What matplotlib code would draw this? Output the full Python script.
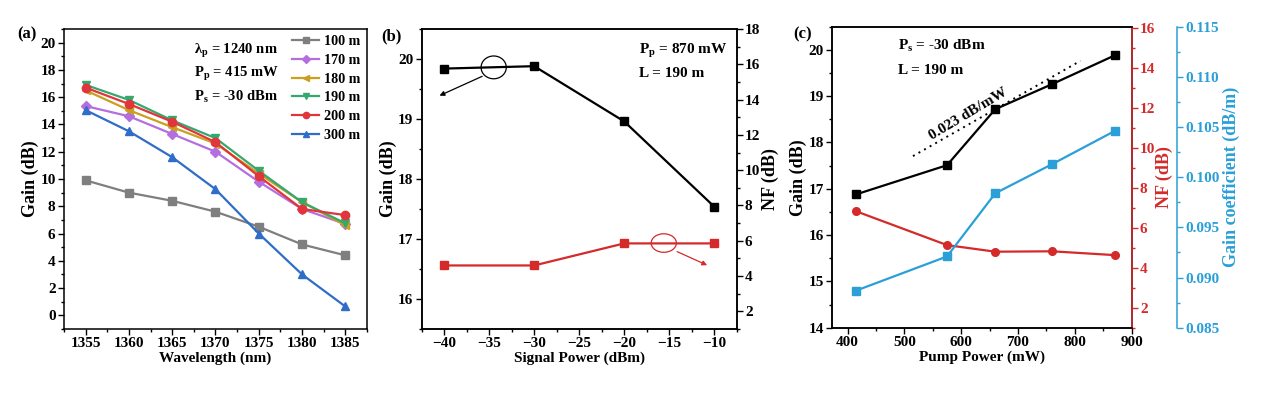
import numpy as np
import matplotlib
matplotlib.use("Agg")
import matplotlib.pyplot as plt
from matplotlib.patches import Ellipse
from matplotlib.ticker import MultipleLocator, FormatStrFormatter

plt.rcParams['font.family'] = ['Liberation Serif', 'DejaVu Serif']
plt.rcParams['font.weight'] = 'bold'
plt.rcParams['axes.labelweight'] = 'bold'
plt.rcParams['mathtext.fontset'] = 'custom'
plt.rcParams['mathtext.rm'] = 'Liberation Serif:bold'
plt.rcParams['mathtext.it'] = 'Liberation Serif:bold'
plt.rcParams['mathtext.bf'] = 'Liberation Serif:bold'

# ---- panel (a): gain vs wavelength for several fibre lengths
wavelength = [1355, 1360, 1365, 1370, 1375, 1380, 1385]
lengths = ['100 m', '170 m', '180 m', '190 m', '200 m', '300 m']
gain_100 = [9.9, 9.0, 8.4, 7.6, 6.5, 5.2, 4.4]
gain_170 = [15.35, 14.6, 13.3, 12.0, 9.8, 7.8, 6.7]
gain_180 = [16.5, 15.05, 13.8, 12.6, 10.4, 8.3, 6.6]
gain_190 = [16.9, 15.8, 14.3, 13.0, 10.6, 8.3, 6.75]
gain_200 = [16.7, 15.5, 14.2, 12.7, 10.2, 7.8, 7.35]
gain_300 = [15.05, 13.5, 11.6, 9.25, 6.0, 3.0, 0.65]

# ---- panel (b): gain / NF vs signal power
signal_power = [-40, -30, -20, -10]
gain_b = [19.84, 19.88, 18.96, 17.54]
nf_b = [4.6, 4.6, 5.85, 5.85]

# ---- panel (c): gain / NF / gain coefficient vs pump power
pump_power = [415, 575, 660, 760, 870]
gain_c = [16.88, 17.51, 18.72, 19.26, 19.88]
nf_c = [6.82, 5.13, 4.8, 4.82, 4.63]
coef_c = [0.0887, 0.0921, 0.0984, 0.1013, 0.1046]

series_a = [gain_100, gain_170, gain_180, gain_190, gain_200, gain_300]
colors_a = ['#7f7f7f', '#b46ee0', '#c9a020', '#35a86e', '#e0353a', '#2e6dc8']
markers_a = ['s', 'D', '<', 'v', 'o', '^']

RED = '#d42a2a'
BLUE = '#2a9fd8'
FS = 11      # horizontal text
YFS = 13     # rotated axis labels (reference text is tall and narrow)
TFS = 11

fig = plt.figure(figsize=(12.69, 3.97), dpi=100)
axA = fig.add_axes([0.0504, 0.1713, 0.2388, 0.7557])
axB = fig.add_axes([0.3323, 0.1713, 0.2482, 0.7557])
axC = fig.add_axes([0.6559, 0.1746, 0.2358, 0.758])


def style(ax):
    ax.tick_params(which='both', direction='out', labelsize=TFS, width=1, pad=2)
    ax.tick_params(which='major', length=4)
    ax.tick_params(which='minor', length=2)
    for s in ax.spines.values():
        s.set_linewidth(1.1)


# (a)
for ys, lab, c, m in zip(series_a, lengths, colors_a, markers_a):
    ms = 5.5 if m in ('s', 'D') else 6
    axA.plot(wavelength, ys, color=c, marker=m, ms=ms, lw=1.6, label=lab)
axA.set_xlim(1352.5, 1387.5)
axA.set_ylim(-1, 21)
axA.xaxis.set_major_locator(MultipleLocator(5))
axA.xaxis.set_minor_locator(MultipleLocator(2.5))
axA.yaxis.set_major_locator(MultipleLocator(2))
axA.yaxis.set_minor_locator(MultipleLocator(1))
style(axA)
axA.set_xlabel('Wavelength (nm)', fontsize=FS, labelpad=1)
axA.set_ylabel('Gain (dB)', fontsize=YFS, labelpad=1)
axA.legend(loc='upper right', bbox_to_anchor=(1.0, 1.0), frameon=False,
           fontsize=10.2, handlelength=1.9, labelspacing=0.4, handletextpad=0.35,
           borderaxespad=0.05, markerscale=0.75)
axA.text(0.43, 0.925, 'λ$_\\mathrm{p}$ = 1240 nm', transform=axA.transAxes, fontsize=10.5, va='center')
axA.text(0.43, 0.85, 'P$_\\mathrm{p}$ = 415 mW', transform=axA.transAxes, fontsize=10.5, va='center')
axA.text(0.43, 0.775, 'P$_\\mathrm{s}$ = -30 dBm', transform=axA.transAxes, fontsize=10.5, va='center')

# (b)
axB2 = axB.twinx()
axB.plot(signal_power, gain_b, color='black', marker='s', ms=5.5, lw=1.6)
axB2.plot(signal_power, nf_b, color=RED, marker='s', ms=5.5, lw=1.6)
axB.set_xlim(-42.5, -7.5)
axB.set_ylim(15.5, 20.5)
axB2.set_ylim(1, 18)
axB.xaxis.set_major_locator(MultipleLocator(5))
axB.xaxis.set_minor_locator(MultipleLocator(2.5))
axB.yaxis.set_major_locator(MultipleLocator(1))
axB.yaxis.set_minor_locator(MultipleLocator(0.5))
axB2.yaxis.set_major_locator(MultipleLocator(2))
axB2.yaxis.set_minor_locator(MultipleLocator(1))
style(axB)
style(axB2)
axB.set_xlabel('Signal Power (dBm)', fontsize=FS, labelpad=1)
axB.set_ylabel('Gain (dB)', fontsize=YFS, labelpad=1)
axB2.set_ylabel('NF (dB)', fontsize=YFS, labelpad=1)
axB.text(0.69, 0.925, 'P$_\\mathrm{p}$ = 870 mW', transform=axB.transAxes, fontsize=FS, va='center')
axB.text(0.69, 0.85, 'L = 190 m', transform=axB.transAxes, fontsize=FS, va='center')
axB.add_patch(Ellipse((-34.5, 19.86), 2.8, 0.38, fill=False, ec='black', lw=0.9))
axB.annotate('', xy=(-40.8, 19.37), xytext=(-35.5, 19.73),
             arrowprops=dict(arrowstyle='-|>', color='black', lw=0.9, mutation_scale=7))
axB2.add_patch(Ellipse((-15.6, 5.87), 2.8, 1.05, fill=False, ec=RED, lw=0.9))
axB2.annotate('', xy=(-10.5, 4.55), xytext=(-14.4, 5.45),
              arrowprops=dict(arrowstyle='-|>', color=RED, lw=0.9, mutation_scale=7))

# (c)
axC2 = axC.twinx()
axC3 = axC.twinx()
axC3.spines['right'].set_position(('axes', 1.153))
axC.plot(pump_power, gain_c, color='black', marker='s', ms=5.5, lw=1.6)
axC2.plot(pump_power, nf_c, color=RED, marker='o', ms=5.5, lw=1.6)
axC3.plot(pump_power, coef_c, color=BLUE, marker='s', ms=5.5, lw=1.6)
# linear fit of the gain, drawn shifted above the data
k, b0 = np.polyfit(pump_power, gain_c, 1)
fit_x = np.array([515, 810])
axC.plot(fit_x, k * fit_x + b0 + 0.24, color='black', lw=1.4, ls=(0, (1, 2.3)))
axC.text(612, 18.62, '0.023 dB/mW', fontsize=FS, rotation=31, ha='center', va='center')
axC.set_xlim(373, 900)
axC.set_ylim(14, 20.5)
axC2.set_ylim(1, 16.05)
axC3.set_ylim(0.085, 0.115)
axC.xaxis.set_major_locator(MultipleLocator(100))
axC.xaxis.set_minor_locator(MultipleLocator(50))
axC.yaxis.set_major_locator(MultipleLocator(1))
axC.yaxis.set_minor_locator(MultipleLocator(0.5))
axC2.yaxis.set_major_locator(MultipleLocator(2))
axC2.yaxis.set_minor_locator(MultipleLocator(1))
axC3.yaxis.set_major_locator(MultipleLocator(0.005))
axC3.yaxis.set_minor_locator(MultipleLocator(0.0025))
axC3.yaxis.set_major_formatter(FormatStrFormatter('%.3f'))
style(axC)
style(axC2)
style(axC3)
axC2.spines['right'].set_color(RED)
axC2.tick_params(axis='y', which='both', colors=RED)
axC3.spines['right'].set_color(BLUE)
axC3.tick_params(axis='y', which='both', colors=BLUE)
for sp in ('top', 'left', 'bottom'):
    axC3.spines[sp].set_visible(False)
axC.set_xlabel('Pump Power (mW)', fontsize=FS, labelpad=1)
axC.set_ylabel('Gain (dB)', fontsize=YFS, labelpad=1)
axC2.set_ylabel('NF (dB)', fontsize=YFS, color=RED, labelpad=0)
axC3.set_ylabel('Gain coefficient (dB/m)', fontsize=YFS, color=BLUE, labelpad=2)
axC.text(0.22, 0.935, 'P$_\\mathrm{s}$ = -30 dBm', transform=axC.transAxes, fontsize=FS, va='center')
axC.text(0.22, 0.855, 'L = 190 m', transform=axC.transAxes, fontsize=FS, va='center')

fig.text(17 / 1269, 1 - 38 / 397, '(a)', fontsize=12)
fig.text(381 / 1269, 1 - 40 / 397, '(b)', fontsize=12)
fig.text(793 / 1269, 1 - 38 / 397, '(c)', fontsize=12)

fig.savefig('out.png', dpi=100)
